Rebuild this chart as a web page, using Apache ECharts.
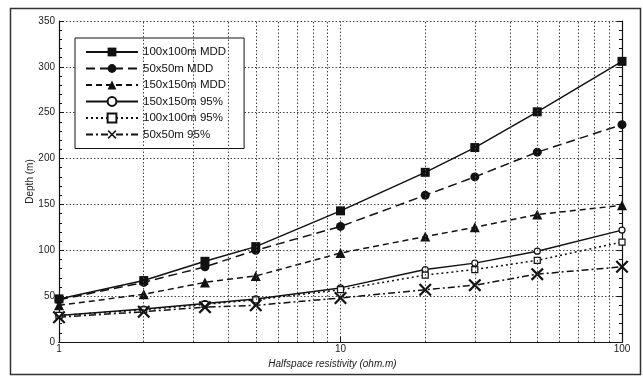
<!DOCTYPE html>
<html>
<head>
<meta charset="utf-8">
<script src="https://cdn.jsdelivr.net/npm/echarts@6/dist/echarts.min.js"></script>
<style>
html,body{margin:0;padding:0;background:#fff;}
#chart{width:643px;height:378px;}
</style>
</head>
<body>
<div id="chart"></div>
<script>
// Halfspace resistivity (ohm.m)
var resistivity = [1, 2, 3.3, 5, 10, 20, 30, 50, 100];
var mdd100 = [47, 67, 88, 104, 143, 185, 212, 251, 306];
var mdd50  = [46, 65, 82, 100, 126, 160, 180, 207, 237];
var mdd150 = [40, 52, 65, 72, 97, 115, 125, 139, 149];
var p95_150 = [29, 36, 42, 47, 59, 79, 86, 99, 122];
var p95_100 = [29, 35, 41, 46, 57, 73, 79, 89, 109];
var p95_50  = [27, 33, 38, 40, 48, 57, 62, 74, 82];
var seriesNames = ['100x100m MDD', '50x50m MDD', '150x150m MDD', '150x150m 95%', '100x100m 95%', '50x50m 95%'];
var minorGridX = [2, 3, 4, 5, 6, 7, 8, 9, 20, 30, 40, 50, 60, 70, 80, 90];

function pairs(ys) { return resistivity.map(function (x, i) { return [x, ys[i]]; }); }

var INK = '#111';
var xSym = 'path://M0,1.2L1.2,0L5,3.8L8.8,0L10,1.2L6.2,5L10,8.8L8.8,10L5,6.2L1.2,10L0,8.8L3.8,5Z';

var chart = echarts.init(document.getElementById('chart'), null, {renderer: 'canvas'});
var font = 'Liberation Sans, Arial, sans-serif';

function mk(name, data, symbol, size, lineType, width, hollow) {
  return {
    name: name, type: 'line', data: pairs(data),
    symbol: symbol, symbolSize: size, showSymbol: true,
    lineStyle: {color: INK, width: width, type: lineType},
    itemStyle: {color: hollow ? '#fff' : INK, borderColor: INK, borderWidth: hollow ? 1.2 : 0},
    emphasis: {disabled: true}, animation: false, z: 3
  };
}

var series = [
  mk(seriesNames[0], mdd100, 'rect', 9, 'solid', 1.5, false),
  mk(seriesNames[1], mdd50, 'circle', 9, [9, 5], 1.5, false),
  mk(seriesNames[2], mdd150, 'triangle', 10, [6, 4], 1.5, false),
  mk(seriesNames[3], p95_150, 'circle', 6, 'solid', 1.5, true),
  mk(seriesNames[4], p95_100, 'rect', 6, [2, 3], 1.5, true),
  mk(seriesNames[5], p95_50, xSym, 13, [7, 3, 2, 3], 1.5, false)
];
series[0].markLine = {
  silent: true, symbol: 'none', label: {show: false}, animation: false,
  lineStyle: {color: '#444', width: 1, type: [1.5, 2]},
  data: minorGridX.map(function (v) { return {xAxis: v}; })
};

chart.setOption({
  animation: false,
  backgroundColor: '#fff',
  textStyle: {fontFamily: font},
  grid: {left: 59, right: 21, top: 21, bottom: 36, show: false},
  graphic: [{
    type: 'rect', left: 8, top: 6, shape: {width: 630, height: 366},
    style: {fill: 'none', stroke: '#333', lineWidth: 1.5}, silent: true, z: -1
  }],
  legend: {
    orient: 'vertical', left: 75, top: 38,
    padding: [8, 18, 8, 10], itemGap: 4.5, itemWidth: 52, itemHeight: 11,
    backgroundColor: '#fff', borderColor: INK, borderWidth: 1,
    textStyle: {fontFamily: font, fontSize: 11.5, color: '#111'},
    data: seriesNames
  },
  xAxis: [{
    type: 'log', logBase: 10, min: 1, max: 100,
    name: 'Halfspace resistivity (ohm.m)', nameLocation: 'middle', nameGap: 10,
    nameTextStyle: {fontFamily: font, fontSize: 10, fontStyle: 'italic', color: '#222', padding: [0, 16, 0, 0]},
    axisLine: {show: true, lineStyle: {color: INK, width: 1.2}},
    axisTick: {show: true, inside: true, length: 5, lineStyle: {color: INK}},
    axisLabel: {fontFamily: font, fontSize: 10, color: '#222', margin: 2},
    splitLine: {show: true, lineStyle: {color: '#444', width: 1, type: [1.5, 2]}}
  }, {
    type: 'log', logBase: 10, min: 1, max: 100, position: 'top',
    axisLine: {show: true, lineStyle: {color: INK, width: 1}},
    axisTick: {show: false}, axisLabel: {show: false}, splitLine: {show: false}
  }],
  yAxis: [{
    type: 'value', min: 0, max: 350, interval: 50,
    name: 'Depth (m)', nameLocation: 'middle', nameGap: 24, nameMoveOverlap: false,
    nameTextStyle: {fontFamily: font, fontSize: 10, color: '#222'},
    axisLine: {show: true, lineStyle: {color: INK, width: 1.2}},
    axisTick: {show: true, inside: true, length: 5, lineStyle: {color: INK}},
    minorTick: {show: true, splitNumber: 5, length: 3, lineStyle: {color: INK}},
    axisLabel: {fontFamily: font, fontSize: 10, color: '#222', margin: 4},
    splitLine: {show: true, lineStyle: {color: '#444', width: 1, type: [1.5, 2]}}
  }, {
    type: 'value', min: 0, max: 350, interval: 50, position: 'right',
    axisLine: {show: true, lineStyle: {color: INK, width: 1.2}},
    axisTick: {show: true, inside: true, length: 5, lineStyle: {color: INK}},
    minorTick: {show: true, splitNumber: 5, length: 3, lineStyle: {color: INK}},
    axisLabel: {show: false}, splitLine: {show: false}
  }],
  series: series
});
</script>
</body>
</html>
